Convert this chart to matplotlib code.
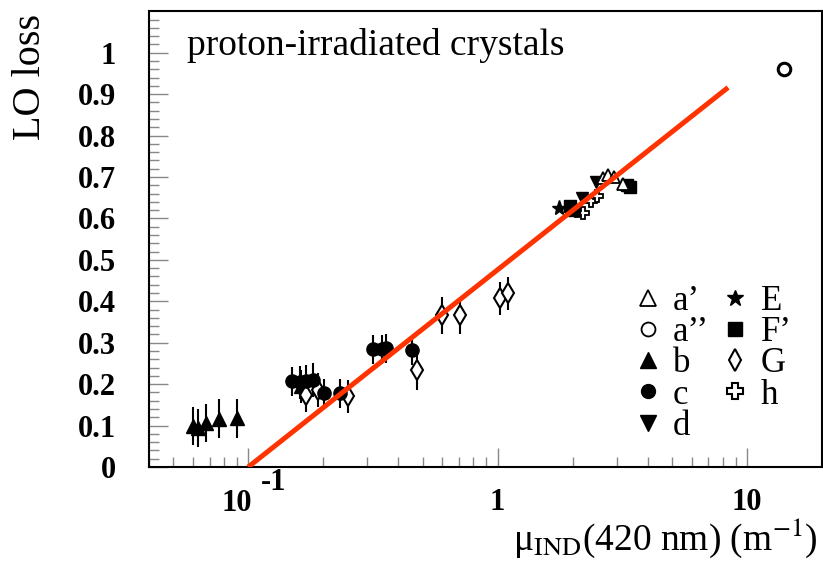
import matplotlib.pyplot as plt
from matplotlib.lines import Line2D
from matplotlib.ticker import FixedLocator, LogLocator, NullFormatter
import numpy as np

plt.rcParams['font.family'] = ['Liberation Serif', 'DejaVu Serif']
plt.rcParams['mathtext.fontset'] = 'stix'

# data: induced absorption (1/m) vs light output loss
b_x = [0.060, 0.063, 0.068, 0.0765, 0.090, 0.163]
b_y = [0.099, 0.094, 0.106, 0.116, 0.118, 0.195]
b_err = [0.045, 0.045, 0.045, 0.047, 0.047, 0.04]

c_x = [0.150, 0.162, 0.171, 0.182, 0.202, 0.234, 0.318, 0.345, 0.358, 0.452]
c_y = [0.207, 0.205, 0.207, 0.210, 0.178, 0.178, 0.284, 0.284, 0.287, 0.282]
c_err = [0.035, 0.04, 0.04, 0.04, 0.035, 0.035, 0.035, 0.035, 0.035, 0.035]

g_x = [0.171, 0.190, 0.252, 0.477, 0.596, 0.710, 1.02, 1.097]
g_y = [0.173, 0.186, 0.171, 0.234, 0.366, 0.366, 0.407, 0.419]
g_err = [0.04, 0.04, 0.04, 0.048, 0.045, 0.045, 0.04, 0.04]

e_x = [1.77]
e_y = [0.624]
f_x = [1.96, 2.02, 3.30, 3.39]
f_y = [0.631, 0.620, 0.680, 0.675]
d_x = [2.19, 2.48]
d_y = [0.650, 0.687]
a1_x = [2.64, 2.77, 2.92, 3.18]
a1_y = [0.697, 0.704, 0.700, 0.684]
a2_x = [14.1]
a2_y = [0.961]
h_x = [2.09, 2.21, 2.36, 2.50]
h_y = [0.619, 0.612, 0.643, 0.655]

# linear fit in log10(mu)
fit_slope = 0.476
fit_icpt = 0.476
fit_range = (0.1, 8.4)

fig = plt.figure(figsize=(8.23, 5.62), dpi=100)
ax = fig.add_axes([0.181, 0.169, 0.8178, 0.811])

eb = dict(ls='none', color='black', ecolor='black', elinewidth=1.5, capsize=0)
ax.errorbar(b_x, b_y, yerr=b_err, fmt='^', ms=10, **eb)
ax.errorbar(g_x, g_y, yerr=g_err, fmt='d', ms=10, mfc='white', mec='black', mew=1.5, **eb)
ax.errorbar(c_x, c_y, yerr=c_err, fmt='o', ms=9.5, **eb)

ax.plot(e_x, e_y, '*', color='black', ms=11, ls='none')
ax.plot(h_x, h_y, 'P', mfc='white', mec='black', mew=1.3, ms=9, ls='none')
ax.plot(f_x, f_y, 's', color='black', ms=8.5, ls='none')
ax.plot(d_x, d_y, 'v', color='black', ms=9, ls='none')
ax.plot(a1_x, a1_y, '^', mfc='white', mec='black', mew=1.3, ms=9, ls='none')
ax.plot(a2_x, a2_y, 'o', mfc='white', mec='black', mew=2.2, ms=9, ls='none')

xf = np.logspace(np.log10(fit_range[0]), np.log10(fit_range[1]), 50)
ax.plot(xf, fit_slope * np.log10(xf) + fit_icpt, color='#ff3300', lw=3.6, zorder=5,
        solid_capstyle='butt')

ax.set_xscale('log')
ax.set_xlim(0.04, 20)
ax.set_ylim(0, 1.1)

ax.set_yticks(np.arange(0, 1.01, 0.1))
ax.set_yticklabels(['0', '0.1', '0.2', '0.3', '0.4', '0.5', '0.6', '0.7', '0.8', '0.9', '1'])
ax.yaxis.set_minor_locator(FixedLocator(np.arange(0, 1.1, 0.02)))
ax.xaxis.set_major_locator(FixedLocator([0.1, 1, 10]))
ax.set_xticklabels(['', '1', '10'])
ax.xaxis.set_minor_locator(LogLocator(base=10, subs=np.arange(2, 10)))
ax.xaxis.set_minor_formatter(NullFormatter())

ax.tick_params(which='both', direction='in', top=False, right=False, color='#888888')
ax.tick_params(which='major', length=14, width=1)
ax.tick_params(which='minor', length=7, width=1)
ax.tick_params(axis='y', labelsize=22, pad=24)
ax.tick_params(axis='x', labelsize=22, pad=15)
for lab in ax.get_xticklabels() + ax.get_yticklabels():
    lab.set_fontweight('bold')
for sp in ax.spines.values():
    sp.set_linewidth(1.5)

# ROOT-style 10^-1 label
ax.annotate('10', xy=(0.1, 0), xycoords=('data', 'axes fraction'), xytext=(-8, -26),
            textcoords='offset points', ha='center', va='center', fontsize=22, fontweight='bold')
ax.annotate('-1', xy=(0.1, 0), xycoords=('data', 'axes fraction'), xytext=(18, -11.5),
            textcoords='offset points', ha='center', va='center', fontsize=22, fontweight='bold')

ax.text(0.0565, 0.903, 'proton-irradiated crystals', transform=ax.transAxes,
        fontsize=27, va='baseline', ha='left')
fig.text(0.037, 0.975, 'LO loss', rotation=90, va='top', ha='center', fontsize=29)
fig.text(0.994, 1 - 550 / 562, '\u03bc$_{\\rm IND}$(420 nm) (m$^{-1}$)', ha='right',
         va='baseline', fontsize=27)

handles = [
    Line2D([], [], ls='none', marker='^', mfc='white', mec='black', mew=1.3, ms=11),
    Line2D([], [], ls='none', marker='o', mfc='white', mec='black', mew=1.3, ms=10),
    Line2D([], [], ls='none', marker='^', color='black', ms=11),
    Line2D([], [], ls='none', marker='o', color='black', ms=10),
    Line2D([], [], ls='none', marker='v', color='black', ms=11),
    Line2D([], [], ls='none', marker='*', color='black', ms=12),
    Line2D([], [], ls='none', marker='s', color='black', ms=10),
    Line2D([], [], ls='none', marker='d', mfc='white', mec='black', mew=1.5, ms=11),
    Line2D([], [], ls='none', marker='P', mfc='white', mec='black', mew=1.5, ms=11),
]
labels = ['a\u2019', 'a\u2019\u2019', 'b', 'c', 'd', 'E', 'F\u2019', 'G', 'h']
ax.legend(handles, labels, ncol=2, loc='upper left', bbox_to_anchor=(0.715, 0.40),
          frameon=False, fontsize=25, handlelength=1.0, handletextpad=0.23,
          columnspacing=0.26, labelspacing=-0.05, borderpad=0, borderaxespad=0)

fig.savefig('out.png', dpi=100)
